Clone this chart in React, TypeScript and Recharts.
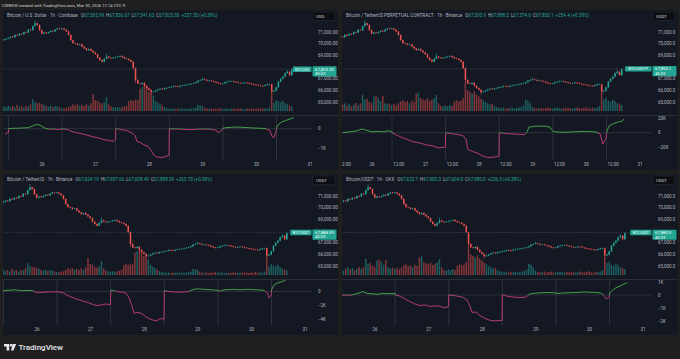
import React from 'react';
import { ComposedChart, LineChart, Bar, Line, XAxis, YAxis, ReferenceLine, Cell } from 'recharts';

// hours are counted from Mar 26 00:00 (UTC-9); first candle is Mar 25 07:00
const FIRST_HOUR = -17;
const firstOpen = 70300;

const closes = [
  70350, 70420, 70500, 70600, 70550, 70750, 70700, 70850, 70800, 71000,
  70950, 71200, 71150, 71500, 71750, 71600, 71150, 70850, 70950, 70900,
  71000, 71100, 71050, 71200, 71300, 71250, 71300, 71200, 71050, 70750,
  70300, 70050, 70000, 69900, 69950, 69750, 69600, 69450, 69550, 69400,
  69250, 69100, 68800, 68600, 68460, 68700, 68900, 68800, 68750, 68800,
  68850, 68900, 68950, 68850, 68750, 68700, 68600, 68450, 67900, 66900,
  66600, 66550, 66650, 66400, 66200, 66050, 65850, 65900, 66000, 66100,
  66150, 66100, 66200, 66220, 66270, 66300, 66380, 66350, 66320, 66400,
  66450, 66470, 66500, 66530, 66580, 66620, 66700, 66840, 66900, 66960,
  66900, 66840, 66850, 66800, 66750, 66670, 66600, 66550, 66600, 66700,
  66750, 66800, 66800, 66750, 66700, 66650, 66620, 66620, 66670, 66650,
  66580, 66530, 66500, 66470, 66420, 66400, 66380, 66450, 66530, 66530,
  65900, 65980, 66270, 66750, 67000, 67180, 67470, 67600, 67300, 67823.3,
];

// [hour, price] for the few long wicks
const wickHighs: [number, number][] = [[-3, 71950], [29, 69100], [72, 67050], [110, 67700]];
const wickLows: [number, number][] = [[42, 66700], [49, 65700], [103, 65780]];

const spotVolumes = [
  1.8, 1.5, 2.2, 1.6, 2.0, 1.4, 2.4, 1.7, 1.9, 1.3,
  2.1, 1.8, 2.6, 4.6, 3.4, 3.0, 3.2, 2.8, 2.5, 2.0,
  1.8, 2.1, 1.6, 2.0, 1.9, 1.4, 1.2, 1.0, 1.3, 1.5,
  2.0, 2.6, 2.3, 2.8, 2.2, 2.5, 2.0, 2.7, 2.1, 3.0,
  6.6, 4.3, 4.0, 3.2, 2.9, 3.4, 5.4, 2.6, 1.8, 1.5,
  1.4, 1.6, 1.3, 1.5, 1.7, 2.0, 3.8, 4.3, 4.0, 4.5,
  4.2, 8.6, 9.2, 10.0, 8.8, 7.4, 6.8, 6.0, 4.0, 3.2,
  2.8, 2.2, 1.6, 1.2, 1.0, 0.9, 1.1, 0.8, 1.0, 0.9,
  1.1, 0.8, 1.0, 0.9, 1.0, 1.2, 1.4, 2.4, 2.2, 2.0,
  1.3, 1.0, 0.9, 1.1, 0.8, 1.0, 0.9, 1.2, 1.0, 0.9,
  1.1, 0.8, 1.0, 0.9, 0.8, 1.0, 1.1, 0.9, 0.8, 1.0,
  0.9, 1.1, 0.8, 1.0, 0.9, 1.2, 1.0, 1.1, 0.9, 1.4,
  7.0, 3.2, 4.2, 3.8, 3.4, 4.0, 3.0, 2.6, 2.2, 1.8,
];

const perpVolumes = [
  2.0, 1.6, 2.4, 1.8, 2.6, 3.0, 2.2, 2.8, 1.9, 2.5,
  3.1, 2.3, 3.0, 6.2, 4.4, 4.8, 3.6, 3.2, 5.6, 6.0,
  5.2, 4.0, 5.8, 3.0, 2.6, 2.9, 2.4, 2.8, 2.2, 3.0,
  3.8, 4.2, 3.4, 3.9, 3.1, 4.0, 3.5, 6.8, 7.2, 5.0,
  4.6, 4.2, 4.8, 3.9, 4.4, 5.0, 6.2, 3.0, 2.0, 1.8,
  2.2, 1.9, 2.4, 2.0, 3.6, 4.2, 3.8, 4.0, 5.0, 11.0,
  8.0, 7.4, 6.8, 7.6, 6.4, 5.6, 4.8, 4.2, 3.4, 3.0,
  2.6, 2.8, 2.0, 1.6, 1.3, 1.1, 1.4, 1.0, 1.2, 1.1,
  1.3, 1.0, 1.2, 1.4, 1.6, 2.2, 4.4, 4.0, 3.0, 1.8,
  1.2, 1.0, 1.1, 1.3, 1.0, 1.2, 1.4, 1.1, 1.0, 1.2,
  1.4, 1.1, 1.0, 1.2, 1.0, 1.3, 1.1, 1.0, 1.2, 1.4,
  1.1, 1.0, 1.2, 1.5, 1.1, 1.0, 1.3, 1.2, 1.4, 2.0,
  7.0, 4.6, 5.2, 4.0, 3.6, 4.4, 3.8, 3.0, 2.8, 2.4,
];

// cumulative volume delta, [hour, thousands], resets at every session
const cvdCoinbase: [number, number][] = [
  [-16.6, -0.3], [-15.7, -0.2], [-15.05, -0.2], [-15, 0], [-13.4, 0.02], [-9.9, 0.03], [-6.3, 0.05],
  [-4, 0.15], [-2.2, 0.22], [-0.9, 0.18], [0.9, 0.05], [2.7, -0.02], [5.8, -0.02], [7.2, -0.05],
  [8.9, -0.02], [9, 0], [11.6, -0.05], [13.4, -0.15], [16.1, -0.22], [19.3, -0.3], [22.4, -0.4],
  [25.1, -0.47], [27.3, -0.55], [29.6, -0.6], [31.8, -0.65], [32.9, -0.55], [33, 0], [35.8, -0.05],
  [38, -0.1], [40.3, -0.22], [41.7, -0.35], [42.5, -0.65], [43.9, -0.7], [46.1, -0.85], [47.5, -0.9],
  [48.8, -1.1], [50.1, -1.35], [51.5, -1.45], [53.7, -1.47], [55.5, -1.42], [56.9, -1.35], [57, -0.01],
  [61.8, -0.02], [66.3, -0.05], [70.7, -0.02], [75.2, -0.02], [77.5, -0.07], [79.3, -0.2], [80.9, -0.05],
  [81, 0.03], [82.4, 0.05], [85.1, 0.08], [88.7, 0.08], [92.2, 0.05], [95.8, 0.03], [99.9, 0.01],
  [102.1, -0.1], [103, -0.4], [103.9, -0.45], [104.9, -0.1], [105, 0.05], [106.1, 0.25], [107.5, 0.35],
  [109.2, 0.42], [111, 0.5], [112.8, 0.57],
];

const cvdBinancePerp: [number, number][] = [
  [-13.2, 0], [-9.9, 1.3], [-6.7, 2.6], [-4.5, 5.2], [-2.2, 3.2], [0, 1.3], [2.7, 1.9], [4.9, 1.3],
  [7.2, 2.6], [8.9, 1.9], [9, 0], [10.7, -2.6], [12.5, -5.2], [15.7, -9], [18.4, -12.3], [21.5, -14.2],
  [24.6, -16.8], [27.3, -18], [29.6, -20.6], [32.2, -20], [32.9, -19.5], [33, 0], [37.2, -1.9],
  [40.8, -3.9], [42.1, -9], [43, -23], [45.2, -25.8], [47.5, -28.4], [49.7, -32], [51.9, -34],
  [54.6, -33.5], [56.9, -32], [57, 0], [60.9, -1.3], [64.5, -1.9], [68.1, -2.6], [69.4, 0.5],
  [70.3, 7.7], [73, 9], [77.5, 9], [79.7, 7.7], [80.9, 2.6], [82, 1.3], [86.4, 0.6], [90.9, 1.3],
  [95.4, 1.9], [99.9, 1.3], [102.1, -1.3], [103.4, -15.5], [104.3, -10], [104.9, -8], [105, 0],
  [106.1, 9], [107.5, 11.6], [109.7, 14.2], [112, 16], [112.8, 18.7],
];

const cvdBinanceSpot: [number, number][] = [
  [-15.2, 0.1], [-13, 0.17], [-9.9, 0.24], [-6.7, 0.1], [-4, 0.17], [-1.8, 0.1], [0, -0.18],
  [3.6, -0.1], [6.7, -0.04], [8.9, -0.1], [9, 0], [9.4, -0.04], [11.6, -0.18], [13.9, -0.6],
  [16.1, -0.88], [18.4, -1.15], [20.6, -1.36], [22.8, -1.57], [25.1, -1.85], [26.9, -2], [28.7, -1.92],
  [30.5, -1.78], [32.9, -1.85], [33, 0.17], [34.5, 0.1], [36.3, -0.04], [38.1, -0.1], [39.9, -0.25],
  [41.2, -0.88], [42.5, -2], [43.4, -3.1], [44.8, -2.96], [46.6, -3.1], [48.4, -3.5], [50.2, -3.86],
  [51.9, -4.07], [53.7, -4.14], [55.1, -3.86], [56.9, -3.93], [57, 0.17], [58.2, 0.03], [60.5, -0.04],
  [64, -0.1], [67.6, -0.04], [69.4, 0.24], [71.7, 0.38], [75.2, 0.3], [78.4, 0.24], [80.9, 0.17],
  [81, 0.03], [84.2, 0.24], [87.8, 0.3], [90.9, 0.24], [94.5, 0.3], [98, 0.24], [101.7, 0.17],
  [103, -0.18], [103.9, -0.88], [104.9, -0.46], [105, 0.24], [106.1, 0.93], [107.5, 1.2],
  [109.3, 1.35], [111, 1.6], [112.4, 1.83],
];

const cvdOkx: [number, number][] = [
  [-14.8, -0.02], [-11.2, -0.02], [-9, 0.05], [-6.7, 0.19], [-5.4, 0.26], [-3.6, 0.12], [-1.3, 0.09],
  [1.3, 0.05], [3.6, 0.12], [5.8, 0.09], [8.9, 0.12], [9, 0], [11.2, -0.09], [13.4, -0.31],
  [15.7, -0.52], [17.9, -0.7], [20.2, -0.81], [22.4, -0.77], [24.6, -0.88], [26.9, -0.84],
  [29.1, -0.88], [31.3, -0.99], [32.9, -0.88], [33, 0], [35.8, -0.06], [39, -0.16], [41.2, -0.38],
  [42.5, -0.88], [43.4, -1.34], [45.2, -1.31], [47, -1.59], [49.3, -1.81], [51.5, -1.95],
  [53.7, -1.99], [56.9, -1.95], [57, 0], [59.1, -0.09], [61.8, -0.16], [64.9, -0.2], [67.6, -0.16],
  [69, 0.05], [70.8, 0.12], [73.9, 0.16], [77, 0.19], [80.9, 0.16], [81, 0.12], [85.1, 0.16],
  [89.6, 0.19], [94, 0.23], [98.5, 0.19], [101.2, 0.16], [102.6, -0.09], [103.5, -0.31],
  [104.9, -0.16], [105, 0.12], [106.6, 0.41], [107.9, 0.55], [109.7, 0.69], [111.5, 0.84], [112.8, 0.94],
];

// 68,000 sits under the last-price badge, so it is not listed
const priceTicks = [65000, 66000, 67000, 69000, 70000, 71000];
const sessionHours = [-15, 9, 33, 57, 81, 105];
const dayTicks = [0, 24, 48, 72, 96, 120];
const dayAndNoonTicks = [-12, 0, 12, 24, 36, 48, 60, 72, 84, 96, 108, 120];

const FONT = 'Roboto, "Noto Sans", sans-serif';
const PAGE_BG = '#1f1f1f';
const PANEL_BG = '#141823';
const TEXT = '#b2b5be';
const UP = '#26a69a';
const DOWN = '#ef5350';
const VOL_UP = 'rgba(38,166,154,0.5)';
const VOL_DOWN = 'rgba(239,83,80,0.5)';
const CVD_UP = '#43a047';
const CVD_DOWN = '#b23a74';
const BADGE = '#22a592';
const AXIS_W = 26;
const PRICE_H = 105;

const buildRows = (volumes: number[]) =>
  closes.map((c, i) => {
    const t = FIRST_HOUR + i;
    const o = i === 0 ? firstOpen : closes[i - 1];
    const hs = wickHighs.find((w) => w[0] === t);
    const ls = wickLows.find((w) => w[0] === t);
    const hi = Math.max(o, c, hs ? hs[1] : -Infinity);
    const lo = Math.min(o, c, ls ? ls[1] : Infinity);
    return { t, o, c, range: [lo, hi], vol: volumes[i] };
  });

const spotRows = buildRows(spotVolumes);
const perpRows = buildRows(perpVolumes);

const panels = [
  {
    key: 'cb', left: 3, top: 10, width: 335, height: 160,
    title: 'Bitcoin / U.S. Dollar · 1h · Coinbase',
    ohlc: ['67,565.99', '67,836.67', '67,541.62', '67,823.30'], change: '+257.30 (+0.38%)',
    currency: 'USD', symbol: 'BTCUSD', last: 67823.3, decimals: 2,
    domain: [-17.5, 120.9], rows: spotRows, cvd: cvdCoinbase,
    cvdDomain: [-1.6, 0.65], cvdTicks: [0, -1], xTicks: dayTicks,
  },
  {
    key: 'bp', left: 342, top: 10, width: 336, height: 160,
    title: 'Bitcoin / TetherUS PERPETUAL CONTRACT · 1h · Binance',
    ohlc: ['67,595.9', '67,888.5', '67,574.6', '67,850.1'], change: '+254.4 (+0.38%)',
    currency: 'USDT', symbol: 'BTCUSDT.P', last: 67850.1, decimals: 1,
    domain: [-13.4, 125.4], rows: perpRows, cvd: cvdBinancePerp,
    cvdDomain: [-37.4, 23], cvdTicks: [20, 0, -20], xTicks: dayAndNoonTicks,
  },
  {
    key: 'bs', left: 3, top: 174, width: 335, height: 161,
    title: 'Bitcoin / TetherUS · 1h · Binance',
    ohlc: ['67,624.19', '67,907.66', '67,608.49', '67,888.09'], change: '+263.70 (+0.39%)',
    currency: 'USDT', symbol: 'BTCUSDT', last: 67888.09, decimals: 2,
    domain: [-15.2, 123.1], rows: spotRows, cvd: cvdBinanceSpot,
    cvdDomain: [-4.76, 1.63], cvdTicks: [0, -2, -4], xTicks: dayTicks,
  },
  {
    key: 'ok', left: 342, top: 174, width: 336, height: 161,
    title: 'Bitcoin/USDT · 1h · OKX',
    ohlc: ['67,623.7', '67,900.0', '67,604.0', '67,880.0'], change: '+256.3 (+0.38%)',
    currency: 'USDT', symbol: 'BTCUSDT', last: 67880.0, decimals: 1,
    domain: [-14.8, 124.0], rows: perpRows, cvd: cvdOkx,
    cvdDomain: [-2.31, 1.15], cvdTicks: [1, 0, -1, -2], xTicks: dayTicks,
  },
];

type PanelCfg = (typeof panels)[number];

const fmtPrice = (v: number, d: number) =>
  v.toLocaleString('en-US', { minimumFractionDigits: d, maximumFractionDigits: d });
const fmtK = (v: number) => (v === 0 ? '0' : `${v < 0 ? '−' : ''}${Math.abs(v)}K`);
const fmtDay = (t: number) => (t % 24 === 0 ? String(26 + t / 24) : '12:00');

const CandleShape = (props: any) => {
  const { x, width, payload } = props;
  let { y, height } = props;
  if (height < 0) {
    y += height;
    height = -height;
  }
  const [lo, hi] = payload.range;
  const up = payload.c >= payload.o;
  const color = up ? UP : DOWN;
  const ppv = hi === lo ? 0 : height / (hi - lo);
  const yO = y + (hi - payload.o) * ppv;
  const yC = y + (hi - payload.c) * ppv;
  const cx = x + width / 2;
  const top = Math.min(yO, yC);
  const bh = Math.max(Math.abs(yO - yC), 0.6);
  return (
    <g>
      <line x1={cx} x2={cx} y1={y - 0.6} y2={y + height + 0.6} stroke={color} strokeWidth={0.6} />
      <rect x={cx - 0.75} y={top} width={1.5} height={bh} fill={color} />
    </g>
  );
};

const PriceBadge = (props: any) => {
  const { viewBox, symbol, price } = props;
  if (!viewBox) return null;
  const { x, y, width } = viewBox;
  const right = x + width;
  const symW = symbol.length * 2.6 + 3;
  return (
    <g>
      <rect x={right - symW - 0.5} y={y - 2.6} width={symW} height={5.4} rx={0.6} fill={BADGE} />
      <text x={right - symW / 2 - 0.5} y={y + 1.5} fontSize={3.8} fill="#ffffff" textAnchor="middle">
        {symbol}
      </text>
      <rect x={right + 0.5} y={y - 2.8} width={24} height={10.2} rx={0.8} fill={BADGE} />
      <text x={right + 3} y={y + 1.5} fontSize={4.3} fill="#ffffff">
        {price}
      </text>
      <text x={right + 3} y={y + 6.1} fontSize={4.1} fill="#ffffff">
        45:33
      </text>
    </g>
  );
};

function Panel({ p }: { p: PanelCfg }) {
  const cvdData = p.cvd.map(([t, v]) => ({ t, v }));
  const vals = p.cvd.map((d) => d[1]);
  const max = Math.max(...vals);
  const min = Math.min(...vals);
  const off = max <= 0 ? 0 : max / (max - min);
  const cvdH = p.height - PRICE_H - 1;
  const tickStyle = { fontSize: 4.5, fill: TEXT };

  return (
    <div
      style={{
        position: 'absolute',
        left: p.left,
        top: p.top,
        width: p.width,
        height: p.height,
        background: PANEL_BG,
        overflow: 'hidden',
      }}
    >
      <ComposedChart width={p.width} height={PRICE_H} data={p.rows} margin={{ top: 0, right: 0, bottom: 0, left: 0 }}>
        <XAxis type="number" dataKey="t" domain={p.domain} allowDataOverflow hide />
        <XAxis xAxisId="v" type="number" dataKey="t" domain={p.domain} allowDataOverflow hide />
        <YAxis yAxisId="vol" domain={[-1.5, 39]} hide />
        <YAxis
          yAxisId="price"
          orientation="right"
          width={AXIS_W}
          domain={[63900, 72880]}
          allowDataOverflow
          ticks={priceTicks}
          interval={0}
          tickFormatter={(v: number) => fmtPrice(v, p.decimals)}
          axisLine={false}
          tickLine={false}
          tickSize={4}
          tickMargin={2}
          tick={tickStyle}
        />
        <Bar xAxisId="v" yAxisId="vol" dataKey="vol" barSize={1.5} isAnimationActive={false}>
          {p.rows.map((d) => (
            <Cell key={d.t} fill={d.c >= d.o ? VOL_UP : VOL_DOWN} />
          ))}
        </Bar>
        <Bar
          yAxisId="price"
          dataKey="range"
          barSize={1.6}
          isAnimationActive={false}
          shape={(props: any) => <CandleShape {...props} />}
        />
        <ReferenceLine
          yAxisId="price"
          y={p.last}
          stroke="#6f727c"
          strokeWidth={0.5}
          strokeDasharray="1 1.5"
          label={<PriceBadge symbol={p.symbol} price={fmtPrice(p.last, p.decimals)} />}
        />
      </ComposedChart>
      <div style={{ borderTop: '1px solid #2a2e39', height: cvdH }}>
        <LineChart width={p.width} height={cvdH} data={cvdData} margin={{ top: 0, right: 0, bottom: 0, left: 0 }}>
          <defs>
            <linearGradient id={`cvd-${p.key}`} x1="0" y1="0" x2="0" y2="1">
              <stop offset={off} stopColor={CVD_UP} />
              <stop offset={off} stopColor={CVD_DOWN} />
            </linearGradient>
          </defs>
          <XAxis
            type="number"
            dataKey="t"
            domain={p.domain}
            allowDataOverflow
            ticks={p.xTicks}
            interval={0}
            tickFormatter={fmtDay}
            axisLine={false}
            tickLine={false}
            tickSize={0}
            tickMargin={3}
            height={10}
            tick={tickStyle}
          />
          <YAxis
            orientation="right"
            width={AXIS_W}
            domain={p.cvdDomain}
            allowDataOverflow
            ticks={p.cvdTicks}
            interval={0}
            tickFormatter={fmtK}
            axisLine={false}
            tickLine={false}
            tickSize={4}
            tickMargin={2}
            tick={tickStyle}
          />
          {sessionHours.map((s) => (
            <ReferenceLine key={s} x={s} stroke="#2e323d" strokeWidth={1} />
          ))}
          <ReferenceLine y={0} stroke="#3a3e49" strokeWidth={0.7} />
          <Line
            type="linear"
            dataKey="v"
            stroke={`url(#cvd-${p.key})`}
            strokeWidth={1}
            dot={false}
            isAnimationActive={false}
          />
        </LineChart>
      </div>
      <svg width={p.width} height={14} style={{ position: 'absolute', left: 0, top: 0 }}>
        <text x={4} y={6.6} fontSize={4.6}>
          <tspan fill={TEXT}>{p.title}</tspan>
          {['O', 'H', 'L', 'C'].map((k, i) => (
            <React.Fragment key={k}>
              <tspan fill={TEXT} dx={i === 0 ? 3 : 2}>
                {k}
              </tspan>
              <tspan fill={UP}>{p.ohlc[i]}</tspan>
            </React.Fragment>
          ))}
          <tspan fill={UP} dx={2}>
            {p.change}
          </tspan>
        </text>
        <rect x={p.width - 25} y={2} width={22} height={8.5} rx={1} fill="#0c0e13" stroke="#2a2e39" strokeWidth={0.5} />
        <text x={p.width - 22} y={7.8} fontSize={4.4} fill="#d1d4dc">
          {p.currency}
        </text>
      </svg>
    </div>
  );
}

export default function App() {
  return (
    <div
      style={{
        position: 'absolute',
        left: 0,
        top: 0,
        width: 680,
        height: 359,
        background: PAGE_BG,
        overflow: 'hidden',
        fontFamily: FONT,
      }}
    >
      <svg width={680} height={10} style={{ position: 'absolute', left: 0, top: 0 }}>
        <text x={2} y={6.5} fontSize={4.2} fill="#d1d4dc">
          CW8900 created with TradingView.com, Mar 30, 2026 17:14 UTC-9
        </text>
      </svg>
      {panels.map((p) => (
        <Panel key={p.key} p={p} />
      ))}
      <svg width={120} height={20} style={{ position: 'absolute', left: 0, top: 339 }}>
        <path d="M4 5 h5.2 v6.5 h-2.6 v-3.9 h-2.6 z" fill="#e6e8ee" />
        <circle cx={11} cy={6.3} r={1.3} fill="#e6e8ee" />
        <path d="M12.6 5 h3.6 l-2.8 6.5 h-2.4 z" fill="#e6e8ee" />
        <text x={18.5} y={11.4} fontSize={8} fontWeight={500} fill="#e6e8ee">
          TradingView
        </text>
      </svg>
    </div>
  );
}
